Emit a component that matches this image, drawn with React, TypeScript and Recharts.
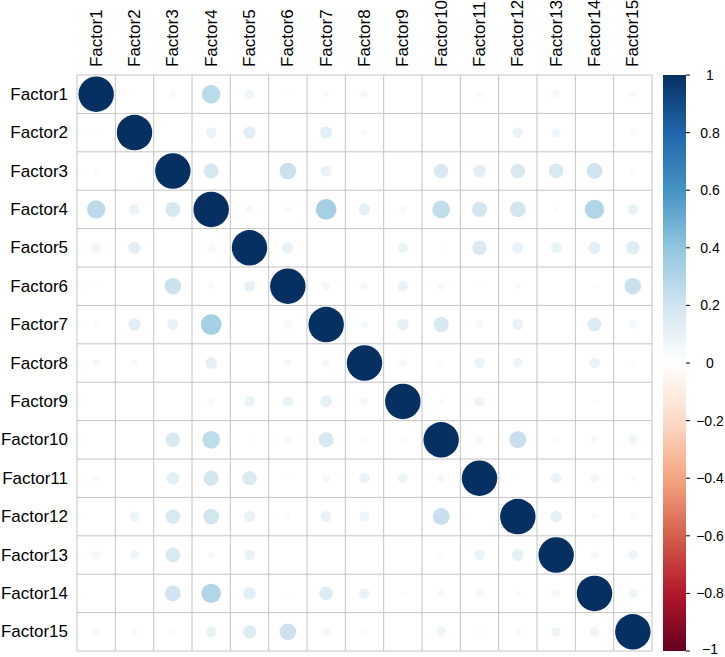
import React from "react";
import { Cell, ReferenceLine, Scatter, ScatterChart, XAxis, YAxis } from "recharts";

const factors = [
  "Factor1", "Factor2", "Factor3", "Factor4", "Factor5",
  "Factor6", "Factor7", "Factor8", "Factor9", "Factor10",
  "Factor11", "Factor12", "Factor13", "Factor14", "Factor15",
];

// lower triangle of the correlation matrix (row i holds columns 1..i)
const corrLower: number[][] = [
  [1],
  [0.02, 1],
  [0.04, 0.01, 1],
  [0.27, 0.09, 0.18, 1],
  [0.07, 0.12, 0.01, 0.05, 1],
  [0.015, 0.01, 0.22, 0.035, 0.1, 1],
  [0.035, 0.12, 0.1, 0.34, 0, 0.055, 1],
  [0.045, 0.035, 0, 0.11, 0.01, 0.045, 0.05, 1],
  [0.005, 0.008, 0.01, 0.045, 0.09, 0.09, 0.11, 0.05, 1],
  [0.003, 0.01, 0.17, 0.25, 0.02, 0.05, 0.18, 0.03, 0.03, 1],
  [0.03, 0.004, 0.125, 0.185, 0.165, 0.018, 0.05, 0.09, 0.08, 0.055, 1],
  [0, 0.085, 0.17, 0.195, 0.1, 0.035, 0.1, 0.08, 0.01, 0.23, 0.005, 1],
  [0.05, 0.07, 0.17, 0.03, 0.09, 0.008, 0.003, 0.01, 0, 0.03, 0.09, 0.11, 1],
  [0.003, 0.01, 0.2, 0.3, 0.12, 0.02, 0.15, 0.09, 0.02, 0.045, 0.055, 0.03, 0.05, 1],
  [0.04, 0.035, 0.03, 0.09, 0.145, 0.22, 0.055, 0.025, 0, 0.07, 0.025, 0.035, 0.075, 0.07, 1],
];

const colorbarTicks = [1, 0.8, 0.6, 0.4, 0.2, 0, -0.2, -0.4, -0.6, -0.8, -1];

// RdBu palette from -1 to 1
const rdbu = [
  "#67001F", "#B2182B", "#D6604D", "#F4A582", "#FDDBC7", "#FFFFFF",
  "#D1E5F0", "#92C5DE", "#4393C3", "#2166AC", "#053061",
];

const W = 725;
const H = 657;
const M = { top: 0, right: 73, bottom: 6, left: 0 };
const Y_W = 77;
const FONT = "'Liberation Sans', Arial, Helvetica, sans-serif";

function corrAt(i: number, j: number) {
  return i >= j ? corrLower[i][j] : corrLower[j][i];
}

function hexToRgb(h: string) {
  return [1, 3, 5].map((k) => parseInt(h.slice(k, k + 2), 16));
}

function colorFor(v: number) {
  const t = ((v + 1) / 2) * (rdbu.length - 1);
  const i = Math.min(Math.floor(t), rdbu.length - 2);
  const f = t - i;
  const a = hexToRgb(rdbu[i]);
  const b = hexToRgb(rdbu[i + 1]);
  const c = a.map((x, k) => Math.round(x + (b[k] - x) * f));
  return `rgb(${c[0]},${c[1]},${c[2]})`;
}

const points = factors.flatMap((_, i) =>
  factors.map((__, j) => {
    const v = corrAt(i, j);
    return { col: j + 1, row: i + 1, v };
  })
);

const idx = factors.map((_, i) => i + 1);
const bounds = [0.5, ...idx.map((i) => i + 0.5)];

// circle area proportional to |r|, like corrplot
const cell = (W - M.right - M.left - Y_W) / factors.length;
const maxR = (cell / 2) * 0.925;

const CorrCircle = (props: any) => {
  const { cx, cy, payload, fill } = props;
  const r = maxR * Math.sqrt(Math.abs(payload.v));
  if (r <= 0) return <g />;
  return <circle cx={cx} cy={cy} r={r} fill={fill} />;
};

const TopTick = (props: any) => {
  const { x, y, payload } = props;
  return (
    <text x={x} y={y} transform={`rotate(-90, ${x}, ${y})`} textAnchor="start" dominantBaseline="central"
      fontSize={17} fontFamily={FONT} fill="#000">
      {factors[payload.value - 1]}
    </text>
  );
};

const LeftTick = (props: any) => {
  const { x, y, payload } = props;
  return (
    <text x={x} y={y} textAnchor="end" dominantBaseline="central" fontSize={17} fontFamily={FONT} fill="#000">
      {factors[payload.value - 1]}
    </text>
  );
};

function ColorBar() {
  const x0 = 663, x1 = 686, top = 75, bottom = 651;
  const yOf = (v: number) => top + ((1 - v) / 2) * (bottom - top);
  return (
    <svg width={W} height={H} style={{ position: "absolute", left: 0, top: 0, pointerEvents: "none" }}>
      <defs>
        <linearGradient id="cbar" x1="0" y1="0" x2="0" y2="1">
          {rdbu.slice().reverse().map((c, k) => (
            <stop key={k} offset={k / (rdbu.length - 1)} stopColor={c} />
          ))}
        </linearGradient>
      </defs>
      <rect x={x0} y={top} width={x1 - x0} height={bottom - top} fill="url(#cbar)" />
      {colorbarTicks.map((t) => (
        <g key={t}>
          <line x1={x1} x2={x1 + 4} y1={yOf(t)} y2={yOf(t)} stroke="#000" strokeWidth={1} />
          <text x={710} y={Math.min(yOf(t), 649)} textAnchor="middle" dominantBaseline="central" fontSize={14} fontFamily={FONT} fill="#000">
            {t < 0 ? `\u2212${Math.abs(t)}` : `${t}`}
          </text>
        </g>
      ))}
    </svg>
  );
}

export default function App() {
  return (
    <div style={{ position: "absolute", left: 0, top: 0, width: W, height: H, background: "#fff" }}>
      <ScatterChart width={W} height={H} margin={M}>
        <XAxis
          type="number"
          dataKey="col"
          orientation="top"
          domain={[0.5, 15.5]}
          ticks={idx}
          height={75}
          axisLine={false}
          tickLine={false}
          tickSize={0}
          tickMargin={8}
          interval={0}
          tick={<TopTick />}
        />
        <YAxis
          type="number"
          dataKey="row"
          reversed
          domain={[0.5, 15.5]}
          ticks={idx}
          width={Y_W}
          axisLine={false}
          tickLine={false}
          tickSize={0}
          tickMargin={9}
          interval={0}
          tick={<LeftTick />}
        />
        {bounds.map((b) => (
          <ReferenceLine key={`v${b}`} x={b} stroke="#C4C4C4" strokeWidth={1} />
        ))}
        {bounds.map((b) => (
          <ReferenceLine key={`h${b}`} y={b} stroke="#C4C4C4" strokeWidth={1} />
        ))}
        <Scatter data={points} shape={<CorrCircle />} isAnimationActive={false}>
          {points.map((p, k) => (
            <Cell key={k} fill={colorFor(p.v)} />
          ))}
        </Scatter>
      </ScatterChart>
      <ColorBar />
    </div>
  );
}
